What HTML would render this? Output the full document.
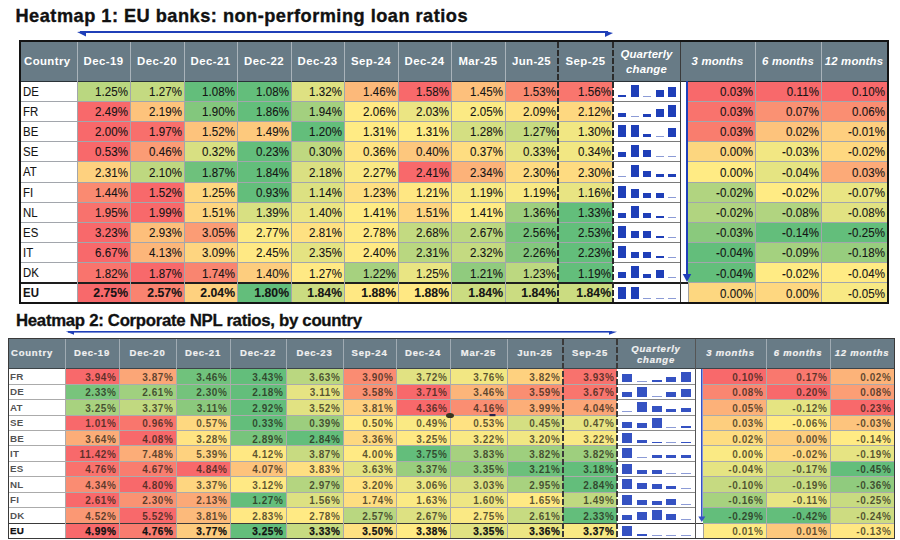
<!DOCTYPE html><html><head><meta charset="utf-8"><style>
*{margin:0;padding:0;box-sizing:content-box}
html,body{width:900px;height:540px;overflow:hidden;background:#fff}
body{position:relative;font-family:"Liberation Sans",sans-serif}
body>div,body>svg{position:absolute;white-space:nowrap}
.t{font-weight:bold;color:#111}
.h1{color:#fff;font-weight:bold;font-size:11.4px;letter-spacing:0.4px}
.h2{color:#f2f2f2;font-weight:bold;font-size:9.5px;letter-spacing:0.8px;-webkit-text-stroke:0.2px #eeeeee}
.it{font-style:italic}
.h1.it{letter-spacing:0.15px}
.c1{color:#141414;font-size:12.8px;letter-spacing:0.1px;-webkit-text-stroke:0.1px #141414;transform:scaleX(0.9);transform-origin:right center}
.c1n{color:#141414;font-size:12.4px;letter-spacing:0.1px;-webkit-text-stroke:0.1px #141414;transform:scaleX(0.92);transform-origin:left center}
.c2{color:rgba(30,25,15,0.72);font-size:10px;font-weight:bold;letter-spacing:0.6px}
.c2n{color:rgba(50,50,50,0.85);font-size:9.8px;font-weight:bold;letter-spacing:0.2px}
.c2.b,.c2n.b{color:#111;-webkit-text-stroke:0.25px #111}
.b{font-weight:bold}
.c1.b{transform:scaleX(0.97);font-size:12.6px;letter-spacing:0}
</style></head><body><div class="t" style="left:15.5px;top:5.5px;font-size:18.2px;line-height:20px;letter-spacing:0.49px;-webkit-text-stroke:0.35px #111" id="t1">Heatmap 1: EU banks: non-performing loan ratios</div><div class="t" style="left:16px;top:311px;font-size:16.8px;line-height:20px;letter-spacing:-0.3px;-webkit-text-stroke:0.3px #111" id="t2">Heatmap 2: Corporate NPL ratios, by country</div><svg style="left:0;top:0" width="900" height="540"><g fill="#1f3fb8"><rect x="80" y="31" width="528" height="2"/><polygon points="77,32 86,31 86,36.5"/><polygon points="613,33 605,31 605,37"/><rect x="68" y="331" width="544" height="1.6"/><polygon points="65.8,331.6 74,331 74,334.7"/><polygon points="617,331.8 609,331 609,334.7"/></g></svg><div style="left:21px;top:42px;width:866px;height:39px;background:#687b86;"></div><div style="left:21px;top:81px;width:56px;height:20px;background:#ffffff;"></div><div style="left:77px;top:81px;width:53px;height:20px;background:#bad780;"></div><div style="left:130px;top:81px;width:54px;height:20px;background:#c4da81;"></div><div style="left:184px;top:81px;width:53px;height:20px;background:#63be7b;"></div><div style="left:237px;top:81px;width:54px;height:20px;background:#63be7b;"></div><div style="left:291px;top:81px;width:53px;height:20px;background:#dee182;"></div><div style="left:344px;top:81px;width:54px;height:20px;background:#fcb97a;"></div><div style="left:398px;top:81px;width:53px;height:20px;background:#f8696b;"></div><div style="left:451px;top:81px;width:54px;height:20px;background:#fdc07c;"></div><div style="left:505px;top:81px;width:53px;height:20px;background:#fa8a71;"></div><div style="left:558px;top:81px;width:55px;height:20px;background:#f9766e;"></div><div style="left:613px;top:81px;width:75px;height:20px;background:#ffffff;"></div><div style="left:21px;top:101px;width:56px;height:20px;background:#ffffff;"></div><div style="left:77px;top:101px;width:53px;height:20px;background:#f8696b;"></div><div style="left:130px;top:101px;width:54px;height:20px;background:#fdc37c;"></div><div style="left:184px;top:101px;width:53px;height:20px;background:#83c77d;"></div><div style="left:237px;top:101px;width:54px;height:20px;background:#63be7b;"></div><div style="left:291px;top:101px;width:53px;height:20px;background:#a3d07f;"></div><div style="left:344px;top:101px;width:54px;height:20px;background:#ffea84;"></div><div style="left:398px;top:101px;width:53px;height:20px;background:#ebe583;"></div><div style="left:451px;top:101px;width:54px;height:20px;background:#fbea84;"></div><div style="left:505px;top:101px;width:53px;height:20px;background:#fee182;"></div><div style="left:558px;top:101px;width:55px;height:20px;background:#fed880;"></div><div style="left:613px;top:101px;width:75px;height:20px;background:#ffffff;"></div><div style="left:21px;top:121px;width:56px;height:20px;background:#ffffff;"></div><div style="left:77px;top:121px;width:53px;height:20px;background:#f8696b;"></div><div style="left:130px;top:121px;width:54px;height:20px;background:#f86f6c;"></div><div style="left:184px;top:121px;width:53px;height:20px;background:#fdc37c;"></div><div style="left:237px;top:121px;width:54px;height:20px;background:#fdc97d;"></div><div style="left:291px;top:121px;width:53px;height:20px;background:#63be7b;"></div><div style="left:344px;top:121px;width:54px;height:20px;background:#ffeb84;"></div><div style="left:398px;top:121px;width:53px;height:20px;background:#ffeb84;"></div><div style="left:451px;top:121px;width:54px;height:20px;background:#d4df82;"></div><div style="left:505px;top:121px;width:53px;height:20px;background:#c6db81;"></div><div style="left:558px;top:121px;width:55px;height:20px;background:#f1e783;"></div><div style="left:613px;top:121px;width:75px;height:20px;background:#ffffff;"></div><div style="left:21px;top:141px;width:56px;height:20px;background:#ffffff;"></div><div style="left:77px;top:141px;width:53px;height:20px;background:#f8696b;"></div><div style="left:130px;top:141px;width:54px;height:20px;background:#fb9c75;"></div><div style="left:184px;top:141px;width:53px;height:20px;background:#d8e082;"></div><div style="left:237px;top:141px;width:54px;height:20px;background:#63be7b;"></div><div style="left:291px;top:141px;width:53px;height:20px;background:#bed880;"></div><div style="left:344px;top:141px;width:54px;height:20px;background:#ffe483;"></div><div style="left:398px;top:141px;width:53px;height:20px;background:#fdc77d;"></div><div style="left:451px;top:141px;width:54px;height:20px;background:#fedd81;"></div><div style="left:505px;top:141px;width:53px;height:20px;background:#e5e482;"></div><div style="left:558px;top:141px;width:55px;height:20px;background:#f2e783;"></div><div style="left:613px;top:141px;width:75px;height:20px;background:#ffffff;"></div><div style="left:21px;top:161px;width:56px;height:21px;background:#ffffff;"></div><div style="left:77px;top:161px;width:53px;height:21px;background:#fed17f;"></div><div style="left:130px;top:161px;width:54px;height:21px;background:#bed880;"></div><div style="left:184px;top:161px;width:53px;height:21px;background:#6ec17c;"></div><div style="left:237px;top:161px;width:54px;height:21px;background:#63be7b;"></div><div style="left:291px;top:161px;width:53px;height:21px;background:#dae082;"></div><div style="left:344px;top:161px;width:54px;height:21px;background:#fae984;"></div><div style="left:398px;top:161px;width:53px;height:21px;background:#f8696b;"></div><div style="left:451px;top:161px;width:54px;height:21px;background:#fcb279;"></div><div style="left:505px;top:161px;width:53px;height:21px;background:#fedb81;"></div><div style="left:558px;top:161px;width:55px;height:21px;background:#fedb81;"></div><div style="left:613px;top:161px;width:75px;height:21px;background:#ffffff;"></div><div style="left:21px;top:182px;width:56px;height:20px;background:#ffffff;"></div><div style="left:77px;top:182px;width:53px;height:20px;background:#fa8a71;"></div><div style="left:130px;top:182px;width:54px;height:20px;background:#f8696b;"></div><div style="left:184px;top:182px;width:53px;height:20px;background:#fed780;"></div><div style="left:237px;top:182px;width:54px;height:20px;background:#63be7b;"></div><div style="left:291px;top:182px;width:53px;height:20px;background:#dce182;"></div><div style="left:344px;top:182px;width:54px;height:20px;background:#fedf82;"></div><div style="left:398px;top:182px;width:53px;height:20px;background:#ffe783;"></div><div style="left:451px;top:182px;width:54px;height:20px;background:#f9e984;"></div><div style="left:505px;top:182px;width:53px;height:20px;background:#f9e984;"></div><div style="left:558px;top:182px;width:55px;height:20px;background:#e8e483;"></div><div style="left:613px;top:182px;width:75px;height:20px;background:#ffffff;"></div><div style="left:21px;top:202px;width:56px;height:20px;background:#ffffff;"></div><div style="left:77px;top:202px;width:53px;height:20px;background:#f8726d;"></div><div style="left:130px;top:202px;width:54px;height:20px;background:#f8696b;"></div><div style="left:184px;top:202px;width:53px;height:20px;background:#fed580;"></div><div style="left:237px;top:202px;width:54px;height:20px;background:#d8e082;"></div><div style="left:291px;top:202px;width:53px;height:20px;background:#ebe583;"></div><div style="left:344px;top:202px;width:54px;height:20px;background:#ffeb84;"></div><div style="left:398px;top:202px;width:53px;height:20px;background:#fed580;"></div><div style="left:451px;top:202px;width:54px;height:20px;background:#ffeb84;"></div><div style="left:505px;top:202px;width:53px;height:20px;background:#9ecf7e;"></div><div style="left:558px;top:202px;width:55px;height:20px;background:#63be7b;"></div><div style="left:613px;top:202px;width:75px;height:20px;background:#ffffff;"></div><div style="left:21px;top:222px;width:56px;height:20px;background:#ffffff;"></div><div style="left:77px;top:222px;width:53px;height:20px;background:#f8696b;"></div><div style="left:130px;top:222px;width:54px;height:20px;background:#fdbf7b;"></div><div style="left:184px;top:222px;width:53px;height:20px;background:#fb9c75;"></div><div style="left:237px;top:222px;width:54px;height:20px;background:#fcea84;"></div><div style="left:291px;top:222px;width:53px;height:20px;background:#fee182;"></div><div style="left:344px;top:222px;width:54px;height:20px;background:#ffea84;"></div><div style="left:398px;top:222px;width:53px;height:20px;background:#c3da81;"></div><div style="left:451px;top:222px;width:54px;height:20px;background:#bcd880;"></div><div style="left:505px;top:222px;width:53px;height:20px;background:#76c47c;"></div><div style="left:558px;top:222px;width:55px;height:20px;background:#63be7b;"></div><div style="left:613px;top:222px;width:75px;height:20px;background:#ffffff;"></div><div style="left:21px;top:242px;width:56px;height:20px;background:#ffffff;"></div><div style="left:77px;top:242px;width:53px;height:20px;background:#f8696b;"></div><div style="left:130px;top:242px;width:54px;height:20px;background:#fcb67a;"></div><div style="left:184px;top:242px;width:53px;height:20px;background:#fed580;"></div><div style="left:237px;top:242px;width:54px;height:20px;background:#ffe984;"></div><div style="left:291px;top:242px;width:53px;height:20px;background:#e4e382;"></div><div style="left:344px;top:242px;width:54px;height:20px;background:#ffea84;"></div><div style="left:398px;top:242px;width:53px;height:20px;background:#b9d780;"></div><div style="left:451px;top:242px;width:54px;height:20px;background:#c4da81;"></div><div style="left:505px;top:242px;width:53px;height:20px;background:#83c77d;"></div><div style="left:558px;top:242px;width:55px;height:20px;background:#63be7b;"></div><div style="left:613px;top:242px;width:75px;height:20px;background:#ffffff;"></div><div style="left:21px;top:262px;width:56px;height:21px;background:#ffffff;"></div><div style="left:77px;top:262px;width:53px;height:21px;background:#f9746d;"></div><div style="left:130px;top:262px;width:54px;height:21px;background:#f8696b;"></div><div style="left:184px;top:262px;width:53px;height:21px;background:#f98570;"></div><div style="left:237px;top:262px;width:54px;height:21px;background:#fdcd7e;"></div><div style="left:291px;top:262px;width:53px;height:21px;background:#ffe984;"></div><div style="left:344px;top:262px;width:54px;height:21px;background:#a6d17f;"></div><div style="left:398px;top:262px;width:53px;height:21px;background:#e9e583;"></div><div style="left:451px;top:262px;width:54px;height:21px;background:#90cb7e;"></div><div style="left:505px;top:262px;width:53px;height:21px;background:#bcd880;"></div><div style="left:558px;top:262px;width:55px;height:21px;background:#63be7b;"></div><div style="left:613px;top:262px;width:75px;height:21px;background:#ffffff;"></div><div style="left:21px;top:283px;width:56px;height:19px;background:#ffffff;"></div><div style="left:77px;top:283px;width:53px;height:19px;background:#f8696b;"></div><div style="left:130px;top:283px;width:54px;height:19px;background:#f98370;"></div><div style="left:184px;top:283px;width:53px;height:19px;background:#fed17f;"></div><div style="left:237px;top:283px;width:54px;height:19px;background:#63be7b;"></div><div style="left:291px;top:283px;width:53px;height:19px;background:#cbdc81;"></div><div style="left:344px;top:283px;width:54px;height:19px;background:#ffe883;"></div><div style="left:398px;top:283px;width:53px;height:19px;background:#ffe883;"></div><div style="left:451px;top:283px;width:54px;height:19px;background:#cbdc81;"></div><div style="left:505px;top:283px;width:53px;height:19px;background:#cbdc81;"></div><div style="left:558px;top:283px;width:55px;height:19px;background:#cbdc81;"></div><div style="left:613px;top:283px;width:75px;height:19px;background:#ffffff;"></div><div style="left:688px;top:81px;width:67px;height:20px;background:#f8696b;"></div><div style="left:688px;top:101px;width:67px;height:20px;background:#f9736d;"></div><div style="left:688px;top:121px;width:67px;height:20px;background:#f97d6e;"></div><div style="left:688px;top:141px;width:67px;height:20px;background:#fcd67f;"></div><div style="left:688px;top:161px;width:67px;height:21px;background:#ffeb84;"></div><div style="left:688px;top:182px;width:67px;height:20px;background:#b1d480;"></div><div style="left:688px;top:202px;width:67px;height:20px;background:#b1d480;"></div><div style="left:688px;top:222px;width:67px;height:20px;background:#8ac97d;"></div><div style="left:688px;top:242px;width:67px;height:20px;background:#63be7b;"></div><div style="left:688px;top:262px;width:67px;height:21px;background:#63be7b;"></div><div style="left:688px;top:283px;width:67px;height:19px;background:#fdd780;"></div><div style="left:755px;top:81px;width:66px;height:20px;background:#f8696b;"></div><div style="left:755px;top:101px;width:66px;height:20px;background:#fa9173;"></div><div style="left:755px;top:121px;width:66px;height:20px;background:#fdc37c;"></div><div style="left:755px;top:141px;width:66px;height:20px;background:#f2e783;"></div><div style="left:755px;top:161px;width:66px;height:21px;background:#e5e482;"></div><div style="left:755px;top:182px;width:66px;height:20px;background:#ffeb84;"></div><div style="left:755px;top:202px;width:66px;height:20px;background:#b1d480;"></div><div style="left:755px;top:222px;width:66px;height:20px;background:#63be7b;"></div><div style="left:755px;top:242px;width:66px;height:20px;background:#a4d17f;"></div><div style="left:755px;top:262px;width:66px;height:21px;background:#ffeb84;"></div><div style="left:755px;top:283px;width:66px;height:19px;background:#fed780;"></div><div style="left:821px;top:81px;width:66px;height:20px;background:#f8696b;"></div><div style="left:821px;top:101px;width:66px;height:20px;background:#fa8e72;"></div><div style="left:821px;top:121px;width:66px;height:20px;background:#fecf7f;"></div><div style="left:821px;top:141px;width:66px;height:20px;background:#fed880;"></div><div style="left:821px;top:161px;width:66px;height:21px;background:#fcaa78;"></div><div style="left:821px;top:182px;width:66px;height:20px;background:#e9e583;"></div><div style="left:821px;top:202px;width:66px;height:20px;background:#e1e282;"></div><div style="left:821px;top:222px;width:66px;height:20px;background:#63be7b;"></div><div style="left:821px;top:242px;width:66px;height:20px;background:#97cd7e;"></div><div style="left:821px;top:262px;width:66px;height:21px;background:#ffeb84;"></div><div style="left:821px;top:283px;width:66px;height:19px;background:#f8e984;"></div><div style="left:21px;top:101px;width:592px;height:1px;background:#a2a6ac;"></div><div style="left:613px;top:101px;width:67px;height:1px;background:#7a7a7a;"></div><div style="left:688px;top:101px;width:199px;height:1px;background:#a2a6ac;"></div><div style="left:21px;top:121px;width:592px;height:1px;background:#a2a6ac;"></div><div style="left:613px;top:121px;width:67px;height:1px;background:#7a7a7a;"></div><div style="left:688px;top:121px;width:199px;height:1px;background:#a2a6ac;"></div><div style="left:21px;top:141px;width:592px;height:1px;background:#a2a6ac;"></div><div style="left:613px;top:141px;width:67px;height:1px;background:#7a7a7a;"></div><div style="left:688px;top:141px;width:199px;height:1px;background:#a2a6ac;"></div><div style="left:21px;top:161px;width:592px;height:1px;background:#a2a6ac;"></div><div style="left:613px;top:161px;width:67px;height:1px;background:#7a7a7a;"></div><div style="left:688px;top:161px;width:199px;height:1px;background:#a2a6ac;"></div><div style="left:21px;top:182px;width:592px;height:1px;background:#a2a6ac;"></div><div style="left:613px;top:182px;width:67px;height:1px;background:#7a7a7a;"></div><div style="left:688px;top:182px;width:199px;height:1px;background:#a2a6ac;"></div><div style="left:21px;top:202px;width:592px;height:1px;background:#a2a6ac;"></div><div style="left:613px;top:202px;width:67px;height:1px;background:#7a7a7a;"></div><div style="left:688px;top:202px;width:199px;height:1px;background:#a2a6ac;"></div><div style="left:21px;top:222px;width:592px;height:1px;background:#a2a6ac;"></div><div style="left:613px;top:222px;width:67px;height:1px;background:#7a7a7a;"></div><div style="left:688px;top:222px;width:199px;height:1px;background:#a2a6ac;"></div><div style="left:21px;top:242px;width:592px;height:1px;background:#a2a6ac;"></div><div style="left:613px;top:242px;width:67px;height:1px;background:#7a7a7a;"></div><div style="left:688px;top:242px;width:199px;height:1px;background:#a2a6ac;"></div><div style="left:21px;top:262px;width:592px;height:1px;background:#a2a6ac;"></div><div style="left:613px;top:262px;width:67px;height:1px;background:#7a7a7a;"></div><div style="left:688px;top:262px;width:199px;height:1px;background:#a2a6ac;"></div><div style="left:21px;top:282px;width:667px;height:2px;background:#1e1e1e;"></div><div style="left:688px;top:282px;width:199px;height:1px;background:#a2a6ac;"></div><div style="left:21px;top:81px;width:866px;height:1px;background:#2a3238;"></div><div style="left:77px;top:42px;width:1px;height:39px;background:#a9b3ba;"></div><div style="left:77px;top:81px;width:1px;height:221px;background:#a2a6ac;"></div><div style="left:130px;top:42px;width:1px;height:39px;background:#a9b3ba;"></div><div style="left:130px;top:81px;width:1px;height:221px;background:#a2a6ac;"></div><div style="left:184px;top:42px;width:1px;height:39px;background:#a9b3ba;"></div><div style="left:184px;top:81px;width:1px;height:221px;background:#a2a6ac;"></div><div style="left:237px;top:42px;width:1px;height:39px;background:#a9b3ba;"></div><div style="left:237px;top:81px;width:1px;height:221px;background:#a2a6ac;"></div><div style="left:291px;top:42px;width:1px;height:39px;background:#a9b3ba;"></div><div style="left:291px;top:81px;width:1px;height:221px;background:#a2a6ac;"></div><div style="left:344px;top:42px;width:1px;height:39px;background:#a9b3ba;"></div><div style="left:344px;top:81px;width:1px;height:221px;background:#a2a6ac;"></div><div style="left:398px;top:42px;width:1px;height:39px;background:#a9b3ba;"></div><div style="left:398px;top:81px;width:1px;height:221px;background:#a2a6ac;"></div><div style="left:451px;top:42px;width:1px;height:39px;background:#a9b3ba;"></div><div style="left:451px;top:81px;width:1px;height:221px;background:#a2a6ac;"></div><div style="left:505px;top:42px;width:1px;height:39px;background:#a9b3ba;"></div><div style="left:505px;top:81px;width:1px;height:221px;background:#a2a6ac;"></div><div style="left:755px;top:42px;width:1px;height:39px;background:#a9b3ba;"></div><div style="left:755px;top:81px;width:1px;height:221px;background:#a2a6ac;"></div><div style="left:821px;top:42px;width:1px;height:39px;background:#a9b3ba;"></div><div style="left:821px;top:81px;width:1px;height:221px;background:#a2a6ac;"></div><div style="left:680px;top:42px;width:1px;height:39px;background:#3a3a3a;"></div><div style="left:680px;top:81px;width:1px;height:221px;background:#3a3a3a;"></div><div style="left:688px;top:283px;width:1px;height:19px;background:#a0a0a0;"></div><div style="left:557px;top:42px;width:2px;height:260px;background:repeating-linear-gradient(to bottom,#2b2b2b 0,#2b2b2b 6px,transparent 6px,transparent 8px)"></div><div style="left:612px;top:42px;width:2px;height:260px;background:repeating-linear-gradient(to bottom,#2b2b2b 0,#2b2b2b 6px,transparent 6px,transparent 8px)"></div><svg style="left:0;top:0" width="900" height="540"><rect x="686" y="81" width="2" height="193.5" fill="#1f3fb8"/><polygon points="682.75,274 691.25,274 687.0,282" fill="#1f3fb8"/></svg><div style="left:19px;top:40px;width:866px;height:260px;border:2px solid #141414"></div><div class="h1" style="left:24px;top:42px;width:56px;height:39px;line-height:39px;text-align:left">Country</div><div class="h1" style="left:77px;top:42px;width:53px;height:39px;line-height:39px;text-align:center">Dec-19</div><div class="h1" style="left:130px;top:42px;width:54px;height:39px;line-height:39px;text-align:center">Dec-20</div><div class="h1" style="left:184px;top:42px;width:53px;height:39px;line-height:39px;text-align:center">Dec-21</div><div class="h1" style="left:237px;top:42px;width:54px;height:39px;line-height:39px;text-align:center">Dec-22</div><div class="h1" style="left:291px;top:42px;width:53px;height:39px;line-height:39px;text-align:center">Dec-23</div><div class="h1" style="left:344px;top:42px;width:54px;height:39px;line-height:39px;text-align:center">Sep-24</div><div class="h1" style="left:398px;top:42px;width:53px;height:39px;line-height:39px;text-align:center">Dec-24</div><div class="h1" style="left:451px;top:42px;width:54px;height:39px;line-height:39px;text-align:center">Mar-25</div><div class="h1" style="left:505px;top:42px;width:53px;height:39px;line-height:39px;text-align:center">Jun-25</div><div class="h1" style="left:558px;top:42px;width:55px;height:39px;line-height:39px;text-align:center">Sep-25</div><div class="h1 it" style="left:613px;top:47px;width:67px;line-height:15px;text-align:center">Quarterly<br>change</div><div class="h1 it" style="left:680px;top:42px;width:75px;height:39px;line-height:39px;text-align:center">3 months</div><div class="h1 it" style="left:755px;top:42px;width:66px;height:39px;line-height:39px;text-align:center">6 months</div><div class="h1 it" style="left:821px;top:42px;width:66px;height:39px;line-height:39px;text-align:center">12 months</div><div class="c1n" style="left:23px;top:81.5px;width:50px;height:20px;line-height:20px;text-align:left">DE</div><div class="c1" style="left:77px;top:81.5px;width:51px;height:20px;line-height:20px;text-align:right">1.25%</div><div class="c1" style="left:130px;top:81.5px;width:52px;height:20px;line-height:20px;text-align:right">1.27%</div><div class="c1" style="left:184px;top:81.5px;width:51px;height:20px;line-height:20px;text-align:right">1.08%</div><div class="c1" style="left:237px;top:81.5px;width:52px;height:20px;line-height:20px;text-align:right">1.08%</div><div class="c1" style="left:291px;top:81.5px;width:51px;height:20px;line-height:20px;text-align:right">1.32%</div><div class="c1" style="left:344px;top:81.5px;width:52px;height:20px;line-height:20px;text-align:right">1.46%</div><div class="c1" style="left:398px;top:81.5px;width:51px;height:20px;line-height:20px;text-align:right">1.58%</div><div class="c1" style="left:451px;top:81.5px;width:52px;height:20px;line-height:20px;text-align:right">1.45%</div><div class="c1" style="left:505px;top:81.5px;width:51px;height:20px;line-height:20px;text-align:right">1.53%</div><div class="c1" style="left:558px;top:81.5px;width:53px;height:20px;line-height:20px;text-align:right">1.56%</div><div class="c1" style="left:688px;top:81.5px;width:65px;height:20px;line-height:20px;text-align:right">0.03%</div><div class="c1" style="left:755px;top:81.5px;width:64px;height:20px;line-height:20px;text-align:right">0.11%</div><div class="c1" style="left:821px;top:81.5px;width:64px;height:20px;line-height:20px;text-align:right">0.10%</div><div style="left:618px;top:95px;width:8px;height:2px;background:#1f3fb8;"></div><div style="left:631px;top:85px;width:8px;height:12px;background:#1f3fb8;"></div><div style="left:643px;top:96px;width:8px;height:1px;background:#8c9bd6;"></div><div style="left:656px;top:90px;width:8px;height:7px;background:#1f3fb8;"></div><div style="left:668px;top:87px;width:8px;height:10px;background:#1f3fb8;"></div><div class="c1n" style="left:23px;top:101.5px;width:50px;height:20px;line-height:20px;text-align:left">FR</div><div class="c1" style="left:77px;top:101.5px;width:51px;height:20px;line-height:20px;text-align:right">2.49%</div><div class="c1" style="left:130px;top:101.5px;width:52px;height:20px;line-height:20px;text-align:right">2.19%</div><div class="c1" style="left:184px;top:101.5px;width:51px;height:20px;line-height:20px;text-align:right">1.90%</div><div class="c1" style="left:237px;top:101.5px;width:52px;height:20px;line-height:20px;text-align:right">1.86%</div><div class="c1" style="left:291px;top:101.5px;width:51px;height:20px;line-height:20px;text-align:right">1.94%</div><div class="c1" style="left:344px;top:101.5px;width:52px;height:20px;line-height:20px;text-align:right">2.06%</div><div class="c1" style="left:398px;top:101.5px;width:51px;height:20px;line-height:20px;text-align:right">2.03%</div><div class="c1" style="left:451px;top:101.5px;width:52px;height:20px;line-height:20px;text-align:right">2.05%</div><div class="c1" style="left:505px;top:101.5px;width:51px;height:20px;line-height:20px;text-align:right">2.09%</div><div class="c1" style="left:558px;top:101.5px;width:53px;height:20px;line-height:20px;text-align:right">2.12%</div><div class="c1" style="left:688px;top:101.5px;width:65px;height:20px;line-height:20px;text-align:right">0.03%</div><div class="c1" style="left:755px;top:101.5px;width:64px;height:20px;line-height:20px;text-align:right">0.07%</div><div class="c1" style="left:821px;top:101.5px;width:64px;height:20px;line-height:20px;text-align:right">0.06%</div><div style="left:618px;top:113px;width:8px;height:4px;background:#1f3fb8;"></div><div style="left:631px;top:116px;width:8px;height:1px;background:#8c9bd6;"></div><div style="left:643px;top:114px;width:8px;height:3px;background:#1f3fb8;"></div><div style="left:656px;top:109px;width:8px;height:8px;background:#1f3fb8;"></div><div style="left:668px;top:105px;width:8px;height:12px;background:#1f3fb8;"></div><div class="c1n" style="left:23px;top:121.5px;width:50px;height:20px;line-height:20px;text-align:left">BE</div><div class="c1" style="left:77px;top:121.5px;width:51px;height:20px;line-height:20px;text-align:right">2.00%</div><div class="c1" style="left:130px;top:121.5px;width:52px;height:20px;line-height:20px;text-align:right">1.97%</div><div class="c1" style="left:184px;top:121.5px;width:51px;height:20px;line-height:20px;text-align:right">1.52%</div><div class="c1" style="left:237px;top:121.5px;width:52px;height:20px;line-height:20px;text-align:right">1.49%</div><div class="c1" style="left:291px;top:121.5px;width:51px;height:20px;line-height:20px;text-align:right">1.20%</div><div class="c1" style="left:344px;top:121.5px;width:52px;height:20px;line-height:20px;text-align:right">1.31%</div><div class="c1" style="left:398px;top:121.5px;width:51px;height:20px;line-height:20px;text-align:right">1.31%</div><div class="c1" style="left:451px;top:121.5px;width:52px;height:20px;line-height:20px;text-align:right">1.28%</div><div class="c1" style="left:505px;top:121.5px;width:51px;height:20px;line-height:20px;text-align:right">1.27%</div><div class="c1" style="left:558px;top:121.5px;width:53px;height:20px;line-height:20px;text-align:right">1.30%</div><div class="c1" style="left:688px;top:121.5px;width:65px;height:20px;line-height:20px;text-align:right">0.03%</div><div class="c1" style="left:755px;top:121.5px;width:64px;height:20px;line-height:20px;text-align:right">0.02%</div><div class="c1" style="left:821px;top:121.5px;width:64px;height:20px;line-height:20px;text-align:right">-0.01%</div><div style="left:618px;top:125px;width:8px;height:12px;background:#1f3fb8;"></div><div style="left:631px;top:125px;width:8px;height:12px;background:#1f3fb8;"></div><div style="left:643px;top:134px;width:8px;height:3px;background:#1f3fb8;"></div><div style="left:656px;top:136px;width:8px;height:1px;background:#8c9bd6;"></div><div style="left:668px;top:128px;width:8px;height:9px;background:#1f3fb8;"></div><div class="c1n" style="left:23px;top:141.5px;width:50px;height:20px;line-height:20px;text-align:left">SE</div><div class="c1" style="left:77px;top:141.5px;width:51px;height:20px;line-height:20px;text-align:right">0.53%</div><div class="c1" style="left:130px;top:141.5px;width:52px;height:20px;line-height:20px;text-align:right">0.46%</div><div class="c1" style="left:184px;top:141.5px;width:51px;height:20px;line-height:20px;text-align:right">0.32%</div><div class="c1" style="left:237px;top:141.5px;width:52px;height:20px;line-height:20px;text-align:right">0.23%</div><div class="c1" style="left:291px;top:141.5px;width:51px;height:20px;line-height:20px;text-align:right">0.30%</div><div class="c1" style="left:344px;top:141.5px;width:52px;height:20px;line-height:20px;text-align:right">0.36%</div><div class="c1" style="left:398px;top:141.5px;width:51px;height:20px;line-height:20px;text-align:right">0.40%</div><div class="c1" style="left:451px;top:141.5px;width:52px;height:20px;line-height:20px;text-align:right">0.37%</div><div class="c1" style="left:505px;top:141.5px;width:51px;height:20px;line-height:20px;text-align:right">0.33%</div><div class="c1" style="left:558px;top:141.5px;width:53px;height:20px;line-height:20px;text-align:right">0.34%</div><div class="c1" style="left:688px;top:141.5px;width:65px;height:20px;line-height:20px;text-align:right">0.00%</div><div class="c1" style="left:755px;top:141.5px;width:64px;height:20px;line-height:20px;text-align:right">-0.03%</div><div class="c1" style="left:821px;top:141.5px;width:64px;height:20px;line-height:20px;text-align:right">-0.02%</div><div style="left:618px;top:152px;width:8px;height:5px;background:#1f3fb8;"></div><div style="left:631px;top:145px;width:8px;height:12px;background:#1f3fb8;"></div><div style="left:643px;top:150px;width:8px;height:7px;background:#1f3fb8;"></div><div style="left:656px;top:156px;width:8px;height:1px;background:#8c9bd6;"></div><div style="left:668px;top:156px;width:8px;height:1px;background:#8c9bd6;"></div><div class="c1n" style="left:23px;top:161.5px;width:50px;height:21px;line-height:21px;text-align:left">AT</div><div class="c1" style="left:77px;top:161.5px;width:51px;height:21px;line-height:21px;text-align:right">2.31%</div><div class="c1" style="left:130px;top:161.5px;width:52px;height:21px;line-height:21px;text-align:right">2.10%</div><div class="c1" style="left:184px;top:161.5px;width:51px;height:21px;line-height:21px;text-align:right">1.87%</div><div class="c1" style="left:237px;top:161.5px;width:52px;height:21px;line-height:21px;text-align:right">1.84%</div><div class="c1" style="left:291px;top:161.5px;width:51px;height:21px;line-height:21px;text-align:right">2.18%</div><div class="c1" style="left:344px;top:161.5px;width:52px;height:21px;line-height:21px;text-align:right">2.27%</div><div class="c1" style="left:398px;top:161.5px;width:51px;height:21px;line-height:21px;text-align:right">2.41%</div><div class="c1" style="left:451px;top:161.5px;width:52px;height:21px;line-height:21px;text-align:right">2.34%</div><div class="c1" style="left:505px;top:161.5px;width:51px;height:21px;line-height:21px;text-align:right">2.30%</div><div class="c1" style="left:558px;top:161.5px;width:53px;height:21px;line-height:21px;text-align:right">2.30%</div><div class="c1" style="left:688px;top:161.5px;width:65px;height:21px;line-height:21px;text-align:right">0.00%</div><div class="c1" style="left:755px;top:161.5px;width:64px;height:21px;line-height:21px;text-align:right">-0.04%</div><div class="c1" style="left:821px;top:161.5px;width:64px;height:21px;line-height:21px;text-align:right">0.03%</div><div style="left:618px;top:176px;width:8px;height:1px;background:#8c9bd6;"></div><div style="left:631px;top:165px;width:8px;height:12px;background:#1f3fb8;"></div><div style="left:643px;top:171px;width:8px;height:6px;background:#1f3fb8;"></div><div style="left:656px;top:174px;width:8px;height:3px;background:#1f3fb8;"></div><div style="left:668px;top:174px;width:8px;height:3px;background:#1f3fb8;"></div><div class="c1n" style="left:23px;top:182.5px;width:50px;height:20px;line-height:20px;text-align:left">FI</div><div class="c1" style="left:77px;top:182.5px;width:51px;height:20px;line-height:20px;text-align:right">1.44%</div><div class="c1" style="left:130px;top:182.5px;width:52px;height:20px;line-height:20px;text-align:right">1.52%</div><div class="c1" style="left:184px;top:182.5px;width:51px;height:20px;line-height:20px;text-align:right">1.25%</div><div class="c1" style="left:237px;top:182.5px;width:52px;height:20px;line-height:20px;text-align:right">0.93%</div><div class="c1" style="left:291px;top:182.5px;width:51px;height:20px;line-height:20px;text-align:right">1.14%</div><div class="c1" style="left:344px;top:182.5px;width:52px;height:20px;line-height:20px;text-align:right">1.23%</div><div class="c1" style="left:398px;top:182.5px;width:51px;height:20px;line-height:20px;text-align:right">1.21%</div><div class="c1" style="left:451px;top:182.5px;width:52px;height:20px;line-height:20px;text-align:right">1.19%</div><div class="c1" style="left:505px;top:182.5px;width:51px;height:20px;line-height:20px;text-align:right">1.19%</div><div class="c1" style="left:558px;top:182.5px;width:53px;height:20px;line-height:20px;text-align:right">1.16%</div><div class="c1" style="left:688px;top:182.5px;width:65px;height:20px;line-height:20px;text-align:right">-0.02%</div><div class="c1" style="left:755px;top:182.5px;width:64px;height:20px;line-height:20px;text-align:right">-0.02%</div><div class="c1" style="left:821px;top:182.5px;width:64px;height:20px;line-height:20px;text-align:right">-0.07%</div><div style="left:618px;top:186px;width:8px;height:12px;background:#1f3fb8;"></div><div style="left:631px;top:189px;width:8px;height:9px;background:#1f3fb8;"></div><div style="left:643px;top:193px;width:8px;height:5px;background:#1f3fb8;"></div><div style="left:656px;top:193px;width:8px;height:5px;background:#1f3fb8;"></div><div style="left:668px;top:197px;width:8px;height:1px;background:#8c9bd6;"></div><div class="c1n" style="left:23px;top:202.5px;width:50px;height:20px;line-height:20px;text-align:left">NL</div><div class="c1" style="left:77px;top:202.5px;width:51px;height:20px;line-height:20px;text-align:right">1.95%</div><div class="c1" style="left:130px;top:202.5px;width:52px;height:20px;line-height:20px;text-align:right">1.99%</div><div class="c1" style="left:184px;top:202.5px;width:51px;height:20px;line-height:20px;text-align:right">1.51%</div><div class="c1" style="left:237px;top:202.5px;width:52px;height:20px;line-height:20px;text-align:right">1.39%</div><div class="c1" style="left:291px;top:202.5px;width:51px;height:20px;line-height:20px;text-align:right">1.40%</div><div class="c1" style="left:344px;top:202.5px;width:52px;height:20px;line-height:20px;text-align:right">1.41%</div><div class="c1" style="left:398px;top:202.5px;width:51px;height:20px;line-height:20px;text-align:right">1.51%</div><div class="c1" style="left:451px;top:202.5px;width:52px;height:20px;line-height:20px;text-align:right">1.41%</div><div class="c1" style="left:505px;top:202.5px;width:51px;height:20px;line-height:20px;text-align:right">1.36%</div><div class="c1" style="left:558px;top:202.5px;width:53px;height:20px;line-height:20px;text-align:right">1.33%</div><div class="c1" style="left:688px;top:202.5px;width:65px;height:20px;line-height:20px;text-align:right">-0.02%</div><div class="c1" style="left:755px;top:202.5px;width:64px;height:20px;line-height:20px;text-align:right">-0.08%</div><div class="c1" style="left:821px;top:202.5px;width:64px;height:20px;line-height:20px;text-align:right">-0.08%</div><div style="left:618px;top:213px;width:8px;height:5px;background:#1f3fb8;"></div><div style="left:631px;top:206px;width:8px;height:12px;background:#1f3fb8;"></div><div style="left:643px;top:213px;width:8px;height:5px;background:#1f3fb8;"></div><div style="left:656px;top:216px;width:8px;height:2px;background:#1f3fb8;"></div><div style="left:668px;top:217px;width:8px;height:1px;background:#8c9bd6;"></div><div class="c1n" style="left:23px;top:222.5px;width:50px;height:20px;line-height:20px;text-align:left">ES</div><div class="c1" style="left:77px;top:222.5px;width:51px;height:20px;line-height:20px;text-align:right">3.23%</div><div class="c1" style="left:130px;top:222.5px;width:52px;height:20px;line-height:20px;text-align:right">2.93%</div><div class="c1" style="left:184px;top:222.5px;width:51px;height:20px;line-height:20px;text-align:right">3.05%</div><div class="c1" style="left:237px;top:222.5px;width:52px;height:20px;line-height:20px;text-align:right">2.77%</div><div class="c1" style="left:291px;top:222.5px;width:51px;height:20px;line-height:20px;text-align:right">2.81%</div><div class="c1" style="left:344px;top:222.5px;width:52px;height:20px;line-height:20px;text-align:right">2.78%</div><div class="c1" style="left:398px;top:222.5px;width:51px;height:20px;line-height:20px;text-align:right">2.68%</div><div class="c1" style="left:451px;top:222.5px;width:52px;height:20px;line-height:20px;text-align:right">2.67%</div><div class="c1" style="left:505px;top:222.5px;width:51px;height:20px;line-height:20px;text-align:right">2.56%</div><div class="c1" style="left:558px;top:222.5px;width:53px;height:20px;line-height:20px;text-align:right">2.53%</div><div class="c1" style="left:688px;top:222.5px;width:65px;height:20px;line-height:20px;text-align:right">-0.03%</div><div class="c1" style="left:755px;top:222.5px;width:64px;height:20px;line-height:20px;text-align:right">-0.14%</div><div class="c1" style="left:821px;top:222.5px;width:64px;height:20px;line-height:20px;text-align:right">-0.25%</div><div style="left:618px;top:226px;width:8px;height:12px;background:#1f3fb8;"></div><div style="left:631px;top:231px;width:8px;height:7px;background:#1f3fb8;"></div><div style="left:643px;top:231px;width:8px;height:7px;background:#1f3fb8;"></div><div style="left:656px;top:236px;width:8px;height:2px;background:#1f3fb8;"></div><div style="left:668px;top:237px;width:8px;height:1px;background:#8c9bd6;"></div><div class="c1n" style="left:23px;top:242.5px;width:50px;height:20px;line-height:20px;text-align:left">IT</div><div class="c1" style="left:77px;top:242.5px;width:51px;height:20px;line-height:20px;text-align:right">6.67%</div><div class="c1" style="left:130px;top:242.5px;width:52px;height:20px;line-height:20px;text-align:right">4.13%</div><div class="c1" style="left:184px;top:242.5px;width:51px;height:20px;line-height:20px;text-align:right">3.09%</div><div class="c1" style="left:237px;top:242.5px;width:52px;height:20px;line-height:20px;text-align:right">2.45%</div><div class="c1" style="left:291px;top:242.5px;width:51px;height:20px;line-height:20px;text-align:right">2.35%</div><div class="c1" style="left:344px;top:242.5px;width:52px;height:20px;line-height:20px;text-align:right">2.40%</div><div class="c1" style="left:398px;top:242.5px;width:51px;height:20px;line-height:20px;text-align:right">2.31%</div><div class="c1" style="left:451px;top:242.5px;width:52px;height:20px;line-height:20px;text-align:right">2.32%</div><div class="c1" style="left:505px;top:242.5px;width:51px;height:20px;line-height:20px;text-align:right">2.26%</div><div class="c1" style="left:558px;top:242.5px;width:53px;height:20px;line-height:20px;text-align:right">2.23%</div><div class="c1" style="left:688px;top:242.5px;width:65px;height:20px;line-height:20px;text-align:right">-0.04%</div><div class="c1" style="left:755px;top:242.5px;width:64px;height:20px;line-height:20px;text-align:right">-0.09%</div><div class="c1" style="left:821px;top:242.5px;width:64px;height:20px;line-height:20px;text-align:right">-0.18%</div><div style="left:618px;top:246px;width:8px;height:12px;background:#1f3fb8;"></div><div style="left:631px;top:252px;width:8px;height:6px;background:#1f3fb8;"></div><div style="left:643px;top:252px;width:8px;height:6px;background:#1f3fb8;"></div><div style="left:656px;top:256px;width:8px;height:2px;background:#1f3fb8;"></div><div style="left:668px;top:257px;width:8px;height:1px;background:#8c9bd6;"></div><div class="c1n" style="left:23px;top:262.5px;width:50px;height:21px;line-height:21px;text-align:left">DK</div><div class="c1" style="left:77px;top:262.5px;width:51px;height:21px;line-height:21px;text-align:right">1.82%</div><div class="c1" style="left:130px;top:262.5px;width:52px;height:21px;line-height:21px;text-align:right">1.87%</div><div class="c1" style="left:184px;top:262.5px;width:51px;height:21px;line-height:21px;text-align:right">1.74%</div><div class="c1" style="left:237px;top:262.5px;width:52px;height:21px;line-height:21px;text-align:right">1.40%</div><div class="c1" style="left:291px;top:262.5px;width:51px;height:21px;line-height:21px;text-align:right">1.27%</div><div class="c1" style="left:344px;top:262.5px;width:52px;height:21px;line-height:21px;text-align:right">1.22%</div><div class="c1" style="left:398px;top:262.5px;width:51px;height:21px;line-height:21px;text-align:right">1.25%</div><div class="c1" style="left:451px;top:262.5px;width:52px;height:21px;line-height:21px;text-align:right">1.21%</div><div class="c1" style="left:505px;top:262.5px;width:51px;height:21px;line-height:21px;text-align:right">1.23%</div><div class="c1" style="left:558px;top:262.5px;width:53px;height:21px;line-height:21px;text-align:right">1.19%</div><div class="c1" style="left:688px;top:262.5px;width:65px;height:21px;line-height:21px;text-align:right">-0.04%</div><div class="c1" style="left:755px;top:262.5px;width:64px;height:21px;line-height:21px;text-align:right">-0.02%</div><div class="c1" style="left:821px;top:262.5px;width:64px;height:21px;line-height:21px;text-align:right">-0.04%</div><div style="left:618px;top:272px;width:8px;height:6px;background:#1f3fb8;"></div><div style="left:631px;top:266px;width:8px;height:12px;background:#1f3fb8;"></div><div style="left:643px;top:274px;width:8px;height:4px;background:#1f3fb8;"></div><div style="left:656px;top:270px;width:8px;height:8px;background:#1f3fb8;"></div><div style="left:668px;top:277px;width:8px;height:1px;background:#8c9bd6;"></div><div class="c1n b" style="left:23px;top:283.5px;width:50px;height:19px;line-height:19px;text-align:left">EU</div><div class="c1 b" style="left:77px;top:283.5px;width:51px;height:19px;line-height:19px;text-align:right">2.75%</div><div class="c1 b" style="left:130px;top:283.5px;width:52px;height:19px;line-height:19px;text-align:right">2.57%</div><div class="c1 b" style="left:184px;top:283.5px;width:51px;height:19px;line-height:19px;text-align:right">2.04%</div><div class="c1 b" style="left:237px;top:283.5px;width:52px;height:19px;line-height:19px;text-align:right">1.80%</div><div class="c1 b" style="left:291px;top:283.5px;width:51px;height:19px;line-height:19px;text-align:right">1.84%</div><div class="c1 b" style="left:344px;top:283.5px;width:52px;height:19px;line-height:19px;text-align:right">1.88%</div><div class="c1 b" style="left:398px;top:283.5px;width:51px;height:19px;line-height:19px;text-align:right">1.88%</div><div class="c1 b" style="left:451px;top:283.5px;width:52px;height:19px;line-height:19px;text-align:right">1.84%</div><div class="c1 b" style="left:505px;top:283.5px;width:51px;height:19px;line-height:19px;text-align:right">1.84%</div><div class="c1 b" style="left:558px;top:283.5px;width:53px;height:19px;line-height:19px;text-align:right">1.84%</div><div class="c1" style="left:688px;top:283.5px;width:65px;height:19px;line-height:19px;text-align:right">0.00%</div><div class="c1" style="left:755px;top:283.5px;width:64px;height:19px;line-height:19px;text-align:right">0.00%</div><div class="c1" style="left:821px;top:283.5px;width:64px;height:19px;line-height:19px;text-align:right">-0.05%</div><div style="left:618px;top:287px;width:8px;height:12px;background:#1f3fb8;"></div><div style="left:631px;top:287px;width:8px;height:12px;background:#1f3fb8;"></div><div style="left:643px;top:298px;width:8px;height:1px;background:#8c9bd6;"></div><div style="left:656px;top:298px;width:8px;height:1px;background:#8c9bd6;"></div><div style="left:668px;top:298px;width:8px;height:1px;background:#8c9bd6;"></div><div style="left:9px;top:339px;width:885px;height:30px;background:#687b86;"></div><div style="left:9px;top:369px;width:56px;height:15.399999999999977px;background:#ffffff;"></div><div style="left:65px;top:369px;width:54px;height:15.399999999999977px;background:#f8696b;"></div><div style="left:119px;top:369px;width:57px;height:15.399999999999977px;background:#fba677;"></div><div style="left:176px;top:369px;width:54px;height:15.399999999999977px;background:#70c27c;"></div><div style="left:230px;top:369px;width:56px;height:15.399999999999977px;background:#63be7b;"></div><div style="left:286px;top:369px;width:57px;height:15.399999999999977px;background:#bad780;"></div><div style="left:343px;top:369px;width:53px;height:15.399999999999977px;background:#fa8c72;"></div><div style="left:396px;top:369px;width:54px;height:15.399999999999977px;background:#e1e282;"></div><div style="left:450px;top:369px;width:57px;height:15.399999999999977px;background:#f2e783;"></div><div style="left:507px;top:369px;width:56px;height:15.399999999999977px;background:#fed17f;"></div><div style="left:563px;top:369px;width:54px;height:15.399999999999977px;background:#f8726d;"></div><div style="left:617px;top:369px;width:86px;height:15.399999999999977px;background:#ffffff;"></div><div style="left:9px;top:384.4px;width:56px;height:15.400000000000034px;background:#ffffff;"></div><div style="left:65px;top:384.4px;width:54px;height:15.400000000000034px;background:#78c47c;"></div><div style="left:119px;top:384.4px;width:57px;height:15.400000000000034px;background:#a0d07f;"></div><div style="left:176px;top:384.4px;width:54px;height:15.400000000000034px;background:#74c37c;"></div><div style="left:230px;top:384.4px;width:56px;height:15.400000000000034px;background:#63be7b;"></div><div style="left:286px;top:384.4px;width:57px;height:15.400000000000034px;background:#e6e483;"></div><div style="left:343px;top:384.4px;width:53px;height:15.400000000000034px;background:#fa9173;"></div><div style="left:396px;top:384.4px;width:54px;height:15.400000000000034px;background:#f8696b;"></div><div style="left:450px;top:384.4px;width:57px;height:15.400000000000034px;background:#fcb57a;"></div><div style="left:507px;top:384.4px;width:56px;height:15.400000000000034px;background:#fa8e72;"></div><div style="left:563px;top:384.4px;width:54px;height:15.400000000000034px;background:#f9756d;"></div><div style="left:617px;top:384.4px;width:86px;height:15.400000000000034px;background:#ffffff;"></div><div style="left:9px;top:399.8px;width:56px;height:15.399999999999977px;background:#ffffff;"></div><div style="left:65px;top:399.8px;width:54px;height:15.399999999999977px;background:#a8d27f;"></div><div style="left:119px;top:399.8px;width:57px;height:15.399999999999977px;background:#c1d980;"></div><div style="left:176px;top:399.8px;width:54px;height:15.399999999999977px;background:#8bc97d;"></div><div style="left:230px;top:399.8px;width:56px;height:15.399999999999977px;background:#63be7b;"></div><div style="left:286px;top:399.8px;width:57px;height:15.399999999999977px;background:#e1e282;"></div><div style="left:343px;top:399.8px;width:53px;height:15.399999999999977px;background:#fed07f;"></div><div style="left:396px;top:399.8px;width:54px;height:15.399999999999977px;background:#f8696b;"></div><div style="left:450px;top:399.8px;width:57px;height:15.399999999999977px;background:#fa8e72;"></div><div style="left:507px;top:399.8px;width:56px;height:15.399999999999977px;background:#fcae78;"></div><div style="left:563px;top:399.8px;width:54px;height:15.399999999999977px;background:#fba577;"></div><div style="left:617px;top:399.8px;width:86px;height:15.399999999999977px;background:#ffffff;"></div><div style="left:9px;top:415.2px;width:56px;height:15.400000000000034px;background:#ffffff;"></div><div style="left:65px;top:415.2px;width:54px;height:15.400000000000034px;background:#f8696b;"></div><div style="left:119px;top:415.2px;width:57px;height:15.400000000000034px;background:#f9766d;"></div><div style="left:176px;top:415.2px;width:54px;height:15.400000000000034px;background:#fed880;"></div><div style="left:230px;top:415.2px;width:56px;height:15.400000000000034px;background:#63be7b;"></div><div style="left:286px;top:415.2px;width:57px;height:15.400000000000034px;background:#9cce7e;"></div><div style="left:343px;top:415.2px;width:53px;height:15.400000000000034px;background:#ffea84;"></div><div style="left:396px;top:415.2px;width:54px;height:15.400000000000034px;background:#faea84;"></div><div style="left:450px;top:415.2px;width:57px;height:15.400000000000034px;background:#ffe282;"></div><div style="left:507px;top:415.2px;width:56px;height:15.400000000000034px;background:#d4df82;"></div><div style="left:563px;top:415.2px;width:54px;height:15.400000000000034px;background:#e7e483;"></div><div style="left:617px;top:415.2px;width:86px;height:15.400000000000034px;background:#ffffff;"></div><div style="left:9px;top:430.6px;width:56px;height:15.399999999999977px;background:#ffffff;"></div><div style="left:65px;top:430.6px;width:54px;height:15.399999999999977px;background:#fcad78;"></div><div style="left:119px;top:430.6px;width:57px;height:15.399999999999977px;background:#f8696b;"></div><div style="left:176px;top:430.6px;width:54px;height:15.399999999999977px;background:#ffe483;"></div><div style="left:230px;top:430.6px;width:56px;height:15.399999999999977px;background:#77c47c;"></div><div style="left:286px;top:430.6px;width:57px;height:15.399999999999977px;background:#63be7b;"></div><div style="left:343px;top:430.6px;width:53px;height:15.399999999999977px;background:#fed880;"></div><div style="left:396px;top:430.6px;width:54px;height:15.399999999999977px;background:#ffe984;"></div><div style="left:450px;top:430.6px;width:57px;height:15.399999999999977px;background:#f9e984;"></div><div style="left:507px;top:430.6px;width:56px;height:15.399999999999977px;background:#f1e783;"></div><div style="left:563px;top:430.6px;width:54px;height:15.399999999999977px;background:#f9e984;"></div><div style="left:617px;top:430.6px;width:86px;height:15.399999999999977px;background:#ffffff;"></div><div style="left:9px;top:446px;width:56px;height:15.399999999999977px;background:#ffffff;"></div><div style="left:65px;top:446px;width:54px;height:15.399999999999977px;background:#f8696b;"></div><div style="left:119px;top:446px;width:57px;height:15.399999999999977px;background:#fcad78;"></div><div style="left:176px;top:446px;width:54px;height:15.399999999999977px;background:#fed27f;"></div><div style="left:230px;top:446px;width:56px;height:15.399999999999977px;background:#ffe883;"></div><div style="left:286px;top:446px;width:57px;height:15.399999999999977px;background:#c8db81;"></div><div style="left:343px;top:446px;width:53px;height:15.399999999999977px;background:#ffea84;"></div><div style="left:396px;top:446px;width:54px;height:15.399999999999977px;background:#63be7b;"></div><div style="left:450px;top:446px;width:57px;height:15.399999999999977px;background:#a6d17f;"></div><div style="left:507px;top:446px;width:56px;height:15.399999999999977px;background:#9ecf7e;"></div><div style="left:563px;top:446px;width:54px;height:15.399999999999977px;background:#9ecf7e;"></div><div style="left:617px;top:446px;width:86px;height:15.399999999999977px;background:#ffffff;"></div><div style="left:9px;top:461.4px;width:56px;height:15.400000000000034px;background:#ffffff;"></div><div style="left:65px;top:461.4px;width:54px;height:15.400000000000034px;background:#f9726d;"></div><div style="left:119px;top:461.4px;width:57px;height:15.400000000000034px;background:#f97d6f;"></div><div style="left:176px;top:461.4px;width:54px;height:15.400000000000034px;background:#f8696b;"></div><div style="left:230px;top:461.4px;width:56px;height:15.400000000000034px;background:#fdc37c;"></div><div style="left:286px;top:461.4px;width:57px;height:15.400000000000034px;background:#fedf82;"></div><div style="left:343px;top:461.4px;width:53px;height:15.400000000000034px;background:#e3e382;"></div><div style="left:396px;top:461.4px;width:54px;height:15.400000000000034px;background:#99ce7e;"></div><div style="left:450px;top:461.4px;width:57px;height:15.400000000000034px;background:#93cc7e;"></div><div style="left:507px;top:461.4px;width:56px;height:15.400000000000034px;background:#6cc07b;"></div><div style="left:563px;top:461.4px;width:54px;height:15.400000000000034px;background:#63be7b;"></div><div style="left:617px;top:461.4px;width:86px;height:15.400000000000034px;background:#ffffff;"></div><div style="left:9px;top:476.8px;width:56px;height:15.399999999999977px;background:#ffffff;"></div><div style="left:65px;top:476.8px;width:54px;height:15.399999999999977px;background:#fa8c72;"></div><div style="left:119px;top:476.8px;width:57px;height:15.399999999999977px;background:#f8696b;"></div><div style="left:176px;top:476.8px;width:54px;height:15.399999999999977px;background:#fed680;"></div><div style="left:230px;top:476.8px;width:56px;height:15.399999999999977px;background:#ffe984;"></div><div style="left:286px;top:476.8px;width:57px;height:15.399999999999977px;background:#b4d580;"></div><div style="left:343px;top:476.8px;width:53px;height:15.399999999999977px;background:#ffe382;"></div><div style="left:396px;top:476.8px;width:54px;height:15.399999999999977px;background:#ece683;"></div><div style="left:450px;top:476.8px;width:57px;height:15.399999999999977px;background:#dae082;"></div><div style="left:507px;top:476.8px;width:56px;height:15.399999999999977px;background:#a8d27f;"></div><div style="left:563px;top:476.8px;width:54px;height:15.399999999999977px;background:#63be7b;"></div><div style="left:617px;top:476.8px;width:86px;height:15.399999999999977px;background:#ffffff;"></div><div style="left:9px;top:492.2px;width:56px;height:15.400000000000034px;background:#ffffff;"></div><div style="left:65px;top:492.2px;width:54px;height:15.400000000000034px;background:#f8696b;"></div><div style="left:119px;top:492.2px;width:57px;height:15.400000000000034px;background:#fa9373;"></div><div style="left:176px;top:492.2px;width:54px;height:15.400000000000034px;background:#fba977;"></div><div style="left:230px;top:492.2px;width:56px;height:15.400000000000034px;background:#63be7b;"></div><div style="left:286px;top:492.2px;width:57px;height:15.400000000000034px;background:#dde182;"></div><div style="left:343px;top:492.2px;width:53px;height:15.400000000000034px;background:#fede81;"></div><div style="left:396px;top:492.2px;width:54px;height:15.400000000000034px;background:#fbea84;"></div><div style="left:450px;top:492.2px;width:57px;height:15.400000000000034px;background:#eee683;"></div><div style="left:507px;top:492.2px;width:56px;height:15.400000000000034px;background:#ffea84;"></div><div style="left:563px;top:492.2px;width:54px;height:15.400000000000034px;background:#c0d980;"></div><div style="left:617px;top:492.2px;width:86px;height:15.400000000000034px;background:#ffffff;"></div><div style="left:9px;top:507.6px;width:56px;height:15.399999999999977px;background:#ffffff;"></div><div style="left:65px;top:507.6px;width:54px;height:15.399999999999977px;background:#fb9874;"></div><div style="left:119px;top:507.6px;width:57px;height:15.399999999999977px;background:#f8696b;"></div><div style="left:176px;top:507.6px;width:54px;height:15.399999999999977px;background:#fcba7b;"></div><div style="left:230px;top:507.6px;width:56px;height:15.399999999999977px;background:#ffe883;"></div><div style="left:286px;top:507.6px;width:57px;height:15.399999999999977px;background:#ffea84;"></div><div style="left:343px;top:507.6px;width:53px;height:15.399999999999977px;background:#b9d780;"></div><div style="left:396px;top:507.6px;width:54px;height:15.399999999999977px;background:#dde182;"></div><div style="left:450px;top:507.6px;width:57px;height:15.399999999999977px;background:#fae984;"></div><div style="left:507px;top:507.6px;width:56px;height:15.399999999999977px;background:#c7db81;"></div><div style="left:563px;top:507.6px;width:54px;height:15.399999999999977px;background:#63be7b;"></div><div style="left:617px;top:507.6px;width:86px;height:15.399999999999977px;background:#ffffff;"></div><div style="left:9px;top:523px;width:56px;height:15px;background:#ffffff;"></div><div style="left:65px;top:523px;width:54px;height:15px;background:#f8696b;"></div><div style="left:119px;top:523px;width:57px;height:15px;background:#f97c6f;"></div><div style="left:176px;top:523px;width:54px;height:15px;background:#fdcb7e;"></div><div style="left:230px;top:523px;width:56px;height:15px;background:#63be7b;"></div><div style="left:286px;top:523px;width:57px;height:15px;background:#c7db81;"></div><div style="left:343px;top:523px;width:53px;height:15px;background:#fee182;"></div><div style="left:396px;top:523px;width:54px;height:15px;background:#ffeb84;"></div><div style="left:450px;top:523px;width:57px;height:15px;background:#e0e282;"></div><div style="left:507px;top:523px;width:56px;height:15px;background:#ece683;"></div><div style="left:563px;top:523px;width:54px;height:15px;background:#f9e984;"></div><div style="left:617px;top:523px;width:86px;height:15px;background:#ffffff;"></div><div style="left:703px;top:369px;width:63px;height:15.399999999999977px;background:#f8696b;"></div><div style="left:703px;top:384.4px;width:63px;height:15.400000000000034px;background:#fa8671;"></div><div style="left:703px;top:399.8px;width:63px;height:15.399999999999977px;background:#fcb179;"></div><div style="left:703px;top:415.2px;width:63px;height:15.400000000000034px;background:#fdce7e;"></div><div style="left:703px;top:430.6px;width:63px;height:15.399999999999977px;background:#fedd81;"></div><div style="left:703px;top:446px;width:63px;height:15.399999999999977px;background:#faea84;"></div><div style="left:703px;top:461.4px;width:63px;height:15.400000000000034px;background:#e5e482;"></div><div style="left:703px;top:476.8px;width:63px;height:15.399999999999977px;background:#c6da81;"></div><div style="left:703px;top:492.2px;width:63px;height:15.400000000000034px;background:#a7d27f;"></div><div style="left:703px;top:507.6px;width:63px;height:15.399999999999977px;background:#63be7b;"></div><div style="left:703px;top:523px;width:63px;height:15px;background:#ffeb84;"></div><div style="left:766px;top:369px;width:64px;height:15.399999999999977px;background:#f9786e;"></div><div style="left:766px;top:384.4px;width:64px;height:15.400000000000034px;background:#f8696b;"></div><div style="left:766px;top:399.8px;width:64px;height:15.399999999999977px;background:#e5e482;"></div><div style="left:766px;top:415.2px;width:64px;height:15.400000000000034px;background:#ffeb84;"></div><div style="left:766px;top:430.6px;width:64px;height:15.399999999999977px;background:#fdcd7e;"></div><div style="left:766px;top:446px;width:64px;height:15.399999999999977px;background:#fed780;"></div><div style="left:766px;top:461.4px;width:64px;height:15.400000000000034px;background:#cfdd81;"></div><div style="left:766px;top:476.8px;width:64px;height:15.399999999999977px;background:#c7db81;"></div><div style="left:766px;top:492.2px;width:64px;height:15.400000000000034px;background:#e9e583;"></div><div style="left:766px;top:507.6px;width:64px;height:15.399999999999977px;background:#63be7b;"></div><div style="left:766px;top:523px;width:64px;height:15px;background:#fdc87d;"></div><div style="left:830px;top:369px;width:64px;height:15.399999999999977px;background:#fcb379;"></div><div style="left:830px;top:384.4px;width:64px;height:15.400000000000034px;background:#fb9e75;"></div><div style="left:830px;top:399.8px;width:64px;height:15.399999999999977px;background:#f8696b;"></div><div style="left:830px;top:415.2px;width:64px;height:15.400000000000034px;background:#fdc47d;"></div><div style="left:830px;top:430.6px;width:64px;height:15.399999999999977px;background:#ffeb84;"></div><div style="left:830px;top:446px;width:64px;height:15.399999999999977px;background:#e6e483;"></div><div style="left:830px;top:461.4px;width:64px;height:15.400000000000034px;background:#63be7b;"></div><div style="left:830px;top:476.8px;width:64px;height:15.399999999999977px;background:#90cb7e;"></div><div style="left:830px;top:492.2px;width:64px;height:15.400000000000034px;background:#c8db81;"></div><div style="left:830px;top:507.6px;width:64px;height:15.399999999999977px;background:#cddc81;"></div><div style="left:830px;top:523px;width:64px;height:15px;background:#ffe783;"></div><div style="left:9px;top:384px;width:608px;height:1px;background:#ababab;"></div><div style="left:617px;top:384px;width:78px;height:1px;background:#8a8a8a;"></div><div style="left:703px;top:384px;width:191px;height:1px;background:#ababab;"></div><div style="left:9px;top:399px;width:608px;height:1px;background:#ababab;"></div><div style="left:617px;top:399px;width:78px;height:1px;background:#8a8a8a;"></div><div style="left:703px;top:399px;width:191px;height:1px;background:#ababab;"></div><div style="left:9px;top:415px;width:608px;height:1px;background:#ababab;"></div><div style="left:617px;top:415px;width:78px;height:1px;background:#8a8a8a;"></div><div style="left:703px;top:415px;width:191px;height:1px;background:#ababab;"></div><div style="left:9px;top:430px;width:608px;height:1px;background:#ababab;"></div><div style="left:617px;top:430px;width:78px;height:1px;background:#8a8a8a;"></div><div style="left:703px;top:430px;width:191px;height:1px;background:#ababab;"></div><div style="left:9px;top:445px;width:608px;height:1px;background:#ababab;"></div><div style="left:617px;top:445px;width:78px;height:1px;background:#8a8a8a;"></div><div style="left:703px;top:445px;width:191px;height:1px;background:#ababab;"></div><div style="left:9px;top:461px;width:608px;height:1px;background:#ababab;"></div><div style="left:617px;top:461px;width:78px;height:1px;background:#8a8a8a;"></div><div style="left:703px;top:461px;width:191px;height:1px;background:#ababab;"></div><div style="left:9px;top:476px;width:608px;height:1px;background:#ababab;"></div><div style="left:617px;top:476px;width:78px;height:1px;background:#8a8a8a;"></div><div style="left:703px;top:476px;width:191px;height:1px;background:#ababab;"></div><div style="left:9px;top:492px;width:608px;height:1px;background:#ababab;"></div><div style="left:617px;top:492px;width:78px;height:1px;background:#8a8a8a;"></div><div style="left:703px;top:492px;width:191px;height:1px;background:#ababab;"></div><div style="left:9px;top:507px;width:608px;height:1px;background:#ababab;"></div><div style="left:617px;top:507px;width:78px;height:1px;background:#8a8a8a;"></div><div style="left:703px;top:507px;width:191px;height:1px;background:#ababab;"></div><div style="left:9px;top:523px;width:694px;height:1px;background:#3a3a3a;"></div><div style="left:703px;top:523px;width:191px;height:1px;background:#ababab;"></div><div style="left:9px;top:368px;width:885px;height:1px;background:#3c4448;"></div><div style="left:65px;top:339px;width:1px;height:30px;background:#a0abb3;"></div><div style="left:65px;top:369px;width:1px;height:169px;background:#ababab;"></div><div style="left:119px;top:339px;width:1px;height:30px;background:#a0abb3;"></div><div style="left:119px;top:369px;width:1px;height:169px;background:#ababab;"></div><div style="left:176px;top:339px;width:1px;height:30px;background:#a0abb3;"></div><div style="left:176px;top:369px;width:1px;height:169px;background:#ababab;"></div><div style="left:230px;top:339px;width:1px;height:30px;background:#a0abb3;"></div><div style="left:230px;top:369px;width:1px;height:169px;background:#ababab;"></div><div style="left:286px;top:339px;width:1px;height:30px;background:#a0abb3;"></div><div style="left:286px;top:369px;width:1px;height:169px;background:#ababab;"></div><div style="left:343px;top:339px;width:1px;height:30px;background:#a0abb3;"></div><div style="left:343px;top:369px;width:1px;height:169px;background:#ababab;"></div><div style="left:396px;top:339px;width:1px;height:30px;background:#a0abb3;"></div><div style="left:396px;top:369px;width:1px;height:169px;background:#ababab;"></div><div style="left:450px;top:339px;width:1px;height:30px;background:#a0abb3;"></div><div style="left:450px;top:369px;width:1px;height:169px;background:#ababab;"></div><div style="left:507px;top:339px;width:1px;height:30px;background:#a0abb3;"></div><div style="left:507px;top:369px;width:1px;height:169px;background:#ababab;"></div><div style="left:766px;top:339px;width:1px;height:30px;background:#a0abb3;"></div><div style="left:766px;top:369px;width:1px;height:169px;background:#ababab;"></div><div style="left:830px;top:339px;width:1px;height:30px;background:#a0abb3;"></div><div style="left:830px;top:369px;width:1px;height:169px;background:#ababab;"></div><div style="left:695px;top:339px;width:1px;height:30px;background:#555555;"></div><div style="left:695px;top:369px;width:1px;height:169px;background:#555555;"></div><div style="left:703px;top:523px;width:1px;height:15px;background:#a0a0a0;"></div><div style="left:562px;top:339px;width:2px;height:199px;background:repeating-linear-gradient(to bottom,#3a3a3a 0,#3a3a3a 6px,transparent 6px,transparent 8px)"></div><div style="left:616px;top:339px;width:2px;height:199px;background:repeating-linear-gradient(to bottom,#3a3a3a 0,#3a3a3a 6px,transparent 6px,transparent 8px)"></div><svg style="left:0;top:0" width="900" height="540"><rect x="701" y="369" width="1.6" height="148.0" fill="#3552c2"/><polygon points="698.3,516.5 705.3,516.5 701.8,522" fill="#3552c2"/></svg><div style="left:7.5px;top:337.5px;width:885px;height:199px;border:1.5px solid #3a3a3a"></div><div class="h2" style="left:11px;top:338px;width:56px;height:30px;line-height:30px;text-align:left">Country</div><div class="h2" style="left:65px;top:338px;width:54px;height:30px;line-height:30px;text-align:center">Dec-19</div><div class="h2" style="left:119px;top:338px;width:57px;height:30px;line-height:30px;text-align:center">Dec-20</div><div class="h2" style="left:176px;top:338px;width:54px;height:30px;line-height:30px;text-align:center">Dec-21</div><div class="h2" style="left:230px;top:338px;width:56px;height:30px;line-height:30px;text-align:center">Dec-22</div><div class="h2" style="left:286px;top:338px;width:57px;height:30px;line-height:30px;text-align:center">Dec-23</div><div class="h2" style="left:343px;top:338px;width:53px;height:30px;line-height:30px;text-align:center">Sep-24</div><div class="h2" style="left:396px;top:338px;width:54px;height:30px;line-height:30px;text-align:center">Dec-24</div><div class="h2" style="left:450px;top:338px;width:57px;height:30px;line-height:30px;text-align:center">Mar-25</div><div class="h2" style="left:507px;top:338px;width:56px;height:30px;line-height:30px;text-align:center">Jun-25</div><div class="h2" style="left:563px;top:338px;width:54px;height:30px;line-height:30px;text-align:center">Sep-25</div><div class="h2 it" style="left:617px;top:343px;width:78px;line-height:11px;text-align:center">Quarterly<br>change</div><div class="h2 it" style="left:695px;top:338px;width:71px;height:30px;line-height:30px;text-align:center">3 months</div><div class="h2 it" style="left:766px;top:338px;width:64px;height:30px;line-height:30px;text-align:center">6 months</div><div class="h2 it" style="left:830px;top:338px;width:64px;height:30px;line-height:30px;text-align:center">12 months</div><div class="c2n" style="left:10px;top:369px;width:50px;height:15.399999999999977px;line-height:15.399999999999977px;text-align:left">FR</div><div class="c2" style="left:65px;top:370px;width:51.5px;height:15.399999999999977px;line-height:15.399999999999977px;text-align:right">3.94%</div><div class="c2" style="left:119px;top:370px;width:54.5px;height:15.399999999999977px;line-height:15.399999999999977px;text-align:right">3.87%</div><div class="c2" style="left:176px;top:370px;width:51.5px;height:15.399999999999977px;line-height:15.399999999999977px;text-align:right">3.46%</div><div class="c2" style="left:230px;top:370px;width:53.5px;height:15.399999999999977px;line-height:15.399999999999977px;text-align:right">3.43%</div><div class="c2" style="left:286px;top:370px;width:54.5px;height:15.399999999999977px;line-height:15.399999999999977px;text-align:right">3.63%</div><div class="c2" style="left:343px;top:370px;width:50.5px;height:15.399999999999977px;line-height:15.399999999999977px;text-align:right">3.90%</div><div class="c2" style="left:396px;top:370px;width:51.5px;height:15.399999999999977px;line-height:15.399999999999977px;text-align:right">3.72%</div><div class="c2" style="left:450px;top:370px;width:54.5px;height:15.399999999999977px;line-height:15.399999999999977px;text-align:right">3.76%</div><div class="c2" style="left:507px;top:370px;width:53.5px;height:15.399999999999977px;line-height:15.399999999999977px;text-align:right">3.82%</div><div class="c2" style="left:563px;top:370px;width:51.5px;height:15.399999999999977px;line-height:15.399999999999977px;text-align:right">3.93%</div><div class="c2" style="left:703px;top:370px;width:60.5px;height:15.399999999999977px;line-height:15.399999999999977px;text-align:right">0.10%</div><div class="c2" style="left:766px;top:370px;width:61.5px;height:15.399999999999977px;line-height:15.399999999999977px;text-align:right">0.17%</div><div class="c2" style="left:830px;top:370px;width:61.5px;height:15.399999999999977px;line-height:15.399999999999977px;text-align:right">0.02%</div><div style="left:622px;top:374px;width:10px;height:8px;background:#3552c2;"></div><div style="left:637px;top:381px;width:10px;height:1px;background:#8c9bd6;"></div><div style="left:652px;top:380px;width:10px;height:2px;background:#3552c2;"></div><div style="left:666px;top:377px;width:10px;height:5px;background:#3552c2;"></div><div style="left:681px;top:372px;width:10px;height:10px;background:#3552c2;"></div><div class="c2n" style="left:10px;top:384.4px;width:50px;height:15.400000000000034px;line-height:15.400000000000034px;text-align:left">DE</div><div class="c2" style="left:65px;top:385.4px;width:51.5px;height:15.400000000000034px;line-height:15.400000000000034px;text-align:right">2.33%</div><div class="c2" style="left:119px;top:385.4px;width:54.5px;height:15.400000000000034px;line-height:15.400000000000034px;text-align:right">2.61%</div><div class="c2" style="left:176px;top:385.4px;width:51.5px;height:15.400000000000034px;line-height:15.400000000000034px;text-align:right">2.30%</div><div class="c2" style="left:230px;top:385.4px;width:53.5px;height:15.400000000000034px;line-height:15.400000000000034px;text-align:right">2.18%</div><div class="c2" style="left:286px;top:385.4px;width:54.5px;height:15.400000000000034px;line-height:15.400000000000034px;text-align:right">3.11%</div><div class="c2" style="left:343px;top:385.4px;width:50.5px;height:15.400000000000034px;line-height:15.400000000000034px;text-align:right">3.58%</div><div class="c2" style="left:396px;top:385.4px;width:51.5px;height:15.400000000000034px;line-height:15.400000000000034px;text-align:right">3.71%</div><div class="c2" style="left:450px;top:385.4px;width:54.5px;height:15.400000000000034px;line-height:15.400000000000034px;text-align:right">3.46%</div><div class="c2" style="left:507px;top:385.4px;width:53.5px;height:15.400000000000034px;line-height:15.400000000000034px;text-align:right">3.59%</div><div class="c2" style="left:563px;top:385.4px;width:51.5px;height:15.400000000000034px;line-height:15.400000000000034px;text-align:right">3.67%</div><div class="c2" style="left:703px;top:385.4px;width:60.5px;height:15.400000000000034px;line-height:15.400000000000034px;text-align:right">0.08%</div><div class="c2" style="left:766px;top:385.4px;width:61.5px;height:15.400000000000034px;line-height:15.400000000000034px;text-align:right">0.20%</div><div class="c2" style="left:830px;top:385.4px;width:61.5px;height:15.400000000000034px;line-height:15.400000000000034px;text-align:right">0.08%</div><div style="left:622px;top:392px;width:10px;height:5px;background:#3552c2;"></div><div style="left:637px;top:387px;width:10px;height:10px;background:#3552c2;"></div><div style="left:652px;top:396px;width:10px;height:1px;background:#8c9bd6;"></div><div style="left:666px;top:392px;width:10px;height:5px;background:#3552c2;"></div><div style="left:681px;top:389px;width:10px;height:8px;background:#3552c2;"></div><div class="c2n" style="left:10px;top:399.8px;width:50px;height:15.399999999999977px;line-height:15.399999999999977px;text-align:left">AT</div><div class="c2" style="left:65px;top:400.8px;width:51.5px;height:15.399999999999977px;line-height:15.399999999999977px;text-align:right">3.25%</div><div class="c2" style="left:119px;top:400.8px;width:54.5px;height:15.399999999999977px;line-height:15.399999999999977px;text-align:right">3.37%</div><div class="c2" style="left:176px;top:400.8px;width:51.5px;height:15.399999999999977px;line-height:15.399999999999977px;text-align:right">3.11%</div><div class="c2" style="left:230px;top:400.8px;width:53.5px;height:15.399999999999977px;line-height:15.399999999999977px;text-align:right">2.92%</div><div class="c2" style="left:286px;top:400.8px;width:54.5px;height:15.399999999999977px;line-height:15.399999999999977px;text-align:right">3.52%</div><div class="c2" style="left:343px;top:400.8px;width:50.5px;height:15.399999999999977px;line-height:15.399999999999977px;text-align:right">3.81%</div><div class="c2" style="left:396px;top:400.8px;width:51.5px;height:15.399999999999977px;line-height:15.399999999999977px;text-align:right">4.36%</div><div class="c2" style="left:450px;top:400.8px;width:54.5px;height:15.399999999999977px;line-height:15.399999999999977px;text-align:right">4.16%</div><div class="c2" style="left:507px;top:400.8px;width:53.5px;height:15.399999999999977px;line-height:15.399999999999977px;text-align:right">3.99%</div><div class="c2" style="left:563px;top:400.8px;width:51.5px;height:15.399999999999977px;line-height:15.399999999999977px;text-align:right">4.04%</div><div class="c2" style="left:703px;top:400.8px;width:60.5px;height:15.399999999999977px;line-height:15.399999999999977px;text-align:right">0.05%</div><div class="c2" style="left:766px;top:400.8px;width:61.5px;height:15.399999999999977px;line-height:15.399999999999977px;text-align:right">-0.12%</div><div class="c2" style="left:830px;top:400.8px;width:61.5px;height:15.399999999999977px;line-height:15.399999999999977px;text-align:right">0.23%</div><div style="left:622px;top:411px;width:10px;height:1px;background:#8c9bd6;"></div><div style="left:637px;top:402px;width:10px;height:10px;background:#3552c2;"></div><div style="left:652px;top:406px;width:10px;height:6px;background:#3552c2;"></div><div style="left:666px;top:409px;width:10px;height:3px;background:#3552c2;"></div><div style="left:681px;top:408px;width:10px;height:4px;background:#3552c2;"></div><div class="c2n" style="left:10px;top:415.2px;width:50px;height:15.400000000000034px;line-height:15.400000000000034px;text-align:left">SE</div><div class="c2" style="left:65px;top:416.2px;width:51.5px;height:15.400000000000034px;line-height:15.400000000000034px;text-align:right">1.01%</div><div class="c2" style="left:119px;top:416.2px;width:54.5px;height:15.400000000000034px;line-height:15.400000000000034px;text-align:right">0.96%</div><div class="c2" style="left:176px;top:416.2px;width:51.5px;height:15.400000000000034px;line-height:15.400000000000034px;text-align:right">0.57%</div><div class="c2" style="left:230px;top:416.2px;width:53.5px;height:15.400000000000034px;line-height:15.400000000000034px;text-align:right">0.33%</div><div class="c2" style="left:286px;top:416.2px;width:54.5px;height:15.400000000000034px;line-height:15.400000000000034px;text-align:right">0.39%</div><div class="c2" style="left:343px;top:416.2px;width:50.5px;height:15.400000000000034px;line-height:15.400000000000034px;text-align:right">0.50%</div><div class="c2" style="left:396px;top:416.2px;width:51.5px;height:15.400000000000034px;line-height:15.400000000000034px;text-align:right">0.49%</div><div class="c2" style="left:450px;top:416.2px;width:54.5px;height:15.400000000000034px;line-height:15.400000000000034px;text-align:right">0.53%</div><div class="c2" style="left:507px;top:416.2px;width:53.5px;height:15.400000000000034px;line-height:15.400000000000034px;text-align:right">0.45%</div><div class="c2" style="left:563px;top:416.2px;width:51.5px;height:15.400000000000034px;line-height:15.400000000000034px;text-align:right">0.47%</div><div class="c2" style="left:703px;top:416.2px;width:60.5px;height:15.400000000000034px;line-height:15.400000000000034px;text-align:right">0.03%</div><div class="c2" style="left:766px;top:416.2px;width:61.5px;height:15.400000000000034px;line-height:15.400000000000034px;text-align:right">-0.06%</div><div class="c2" style="left:830px;top:416.2px;width:61.5px;height:15.400000000000034px;line-height:15.400000000000034px;text-align:right">-0.03%</div><div style="left:622px;top:422px;width:10px;height:6px;background:#3552c2;"></div><div style="left:637px;top:423px;width:10px;height:5px;background:#3552c2;"></div><div style="left:652px;top:418px;width:10px;height:10px;background:#3552c2;"></div><div style="left:666px;top:427px;width:10px;height:1px;background:#8c9bd6;"></div><div style="left:681px;top:426px;width:10px;height:2px;background:#3552c2;"></div><div class="c2n" style="left:10px;top:430.6px;width:50px;height:15.399999999999977px;line-height:15.399999999999977px;text-align:left">BE</div><div class="c2" style="left:65px;top:431.6px;width:51.5px;height:15.399999999999977px;line-height:15.399999999999977px;text-align:right">3.64%</div><div class="c2" style="left:119px;top:431.6px;width:54.5px;height:15.399999999999977px;line-height:15.399999999999977px;text-align:right">4.08%</div><div class="c2" style="left:176px;top:431.6px;width:51.5px;height:15.399999999999977px;line-height:15.399999999999977px;text-align:right">3.28%</div><div class="c2" style="left:230px;top:431.6px;width:53.5px;height:15.399999999999977px;line-height:15.399999999999977px;text-align:right">2.89%</div><div class="c2" style="left:286px;top:431.6px;width:54.5px;height:15.399999999999977px;line-height:15.399999999999977px;text-align:right">2.84%</div><div class="c2" style="left:343px;top:431.6px;width:50.5px;height:15.399999999999977px;line-height:15.399999999999977px;text-align:right">3.36%</div><div class="c2" style="left:396px;top:431.6px;width:51.5px;height:15.399999999999977px;line-height:15.399999999999977px;text-align:right">3.25%</div><div class="c2" style="left:450px;top:431.6px;width:54.5px;height:15.399999999999977px;line-height:15.399999999999977px;text-align:right">3.22%</div><div class="c2" style="left:507px;top:431.6px;width:53.5px;height:15.399999999999977px;line-height:15.399999999999977px;text-align:right">3.20%</div><div class="c2" style="left:563px;top:431.6px;width:51.5px;height:15.399999999999977px;line-height:15.399999999999977px;text-align:right">3.22%</div><div class="c2" style="left:703px;top:431.6px;width:60.5px;height:15.399999999999977px;line-height:15.399999999999977px;text-align:right">0.02%</div><div class="c2" style="left:766px;top:431.6px;width:61.5px;height:15.399999999999977px;line-height:15.399999999999977px;text-align:right">0.00%</div><div class="c2" style="left:830px;top:431.6px;width:61.5px;height:15.399999999999977px;line-height:15.399999999999977px;text-align:right">-0.14%</div><div style="left:622px;top:433px;width:10px;height:10px;background:#3552c2;"></div><div style="left:637px;top:440px;width:10px;height:3px;background:#3552c2;"></div><div style="left:652px;top:442px;width:10px;height:1px;background:#3552c2;"></div><div style="left:666px;top:442px;width:10px;height:1px;background:#8c9bd6;"></div><div style="left:681px;top:442px;width:10px;height:1px;background:#3552c2;"></div><div class="c2n" style="left:10px;top:446px;width:50px;height:15.399999999999977px;line-height:15.399999999999977px;text-align:left">IT</div><div class="c2" style="left:65px;top:447px;width:51.5px;height:15.399999999999977px;line-height:15.399999999999977px;text-align:right">11.42%</div><div class="c2" style="left:119px;top:447px;width:54.5px;height:15.399999999999977px;line-height:15.399999999999977px;text-align:right">7.48%</div><div class="c2" style="left:176px;top:447px;width:51.5px;height:15.399999999999977px;line-height:15.399999999999977px;text-align:right">5.39%</div><div class="c2" style="left:230px;top:447px;width:53.5px;height:15.399999999999977px;line-height:15.399999999999977px;text-align:right">4.12%</div><div class="c2" style="left:286px;top:447px;width:54.5px;height:15.399999999999977px;line-height:15.399999999999977px;text-align:right">3.87%</div><div class="c2" style="left:343px;top:447px;width:50.5px;height:15.399999999999977px;line-height:15.399999999999977px;text-align:right">4.00%</div><div class="c2" style="left:396px;top:447px;width:51.5px;height:15.399999999999977px;line-height:15.399999999999977px;text-align:right">3.75%</div><div class="c2" style="left:450px;top:447px;width:54.5px;height:15.399999999999977px;line-height:15.399999999999977px;text-align:right">3.83%</div><div class="c2" style="left:507px;top:447px;width:53.5px;height:15.399999999999977px;line-height:15.399999999999977px;text-align:right">3.82%</div><div class="c2" style="left:563px;top:447px;width:51.5px;height:15.399999999999977px;line-height:15.399999999999977px;text-align:right">3.82%</div><div class="c2" style="left:703px;top:447px;width:60.5px;height:15.399999999999977px;line-height:15.399999999999977px;text-align:right">0.00%</div><div class="c2" style="left:766px;top:447px;width:61.5px;height:15.399999999999977px;line-height:15.399999999999977px;text-align:right">-0.02%</div><div class="c2" style="left:830px;top:447px;width:61.5px;height:15.399999999999977px;line-height:15.399999999999977px;text-align:right">-0.19%</div><div style="left:622px;top:448px;width:10px;height:10px;background:#3552c2;"></div><div style="left:637px;top:457px;width:10px;height:1px;background:#8c9bd6;"></div><div style="left:652px;top:455px;width:10px;height:3px;background:#3552c2;"></div><div style="left:666px;top:455px;width:10px;height:3px;background:#3552c2;"></div><div style="left:681px;top:455px;width:10px;height:3px;background:#3552c2;"></div><div class="c2n" style="left:10px;top:461.4px;width:50px;height:15.400000000000034px;line-height:15.400000000000034px;text-align:left">ES</div><div class="c2" style="left:65px;top:462.4px;width:51.5px;height:15.400000000000034px;line-height:15.400000000000034px;text-align:right">4.76%</div><div class="c2" style="left:119px;top:462.4px;width:54.5px;height:15.400000000000034px;line-height:15.400000000000034px;text-align:right">4.67%</div><div class="c2" style="left:176px;top:462.4px;width:51.5px;height:15.400000000000034px;line-height:15.400000000000034px;text-align:right">4.84%</div><div class="c2" style="left:230px;top:462.4px;width:53.5px;height:15.400000000000034px;line-height:15.400000000000034px;text-align:right">4.07%</div><div class="c2" style="left:286px;top:462.4px;width:54.5px;height:15.400000000000034px;line-height:15.400000000000034px;text-align:right">3.83%</div><div class="c2" style="left:343px;top:462.4px;width:50.5px;height:15.400000000000034px;line-height:15.400000000000034px;text-align:right">3.63%</div><div class="c2" style="left:396px;top:462.4px;width:51.5px;height:15.400000000000034px;line-height:15.400000000000034px;text-align:right">3.37%</div><div class="c2" style="left:450px;top:462.4px;width:54.5px;height:15.400000000000034px;line-height:15.400000000000034px;text-align:right">3.35%</div><div class="c2" style="left:507px;top:462.4px;width:53.5px;height:15.400000000000034px;line-height:15.400000000000034px;text-align:right">3.21%</div><div class="c2" style="left:563px;top:462.4px;width:51.5px;height:15.400000000000034px;line-height:15.400000000000034px;text-align:right">3.18%</div><div class="c2" style="left:703px;top:462.4px;width:60.5px;height:15.400000000000034px;line-height:15.400000000000034px;text-align:right">-0.04%</div><div class="c2" style="left:766px;top:462.4px;width:61.5px;height:15.400000000000034px;line-height:15.400000000000034px;text-align:right">-0.17%</div><div class="c2" style="left:830px;top:462.4px;width:61.5px;height:15.400000000000034px;line-height:15.400000000000034px;text-align:right">-0.45%</div><div style="left:622px;top:464px;width:10px;height:10px;background:#3552c2;"></div><div style="left:637px;top:470px;width:10px;height:4px;background:#3552c2;"></div><div style="left:652px;top:470px;width:10px;height:4px;background:#3552c2;"></div><div style="left:666px;top:473px;width:10px;height:1px;background:#8c9bd6;"></div><div style="left:681px;top:473px;width:10px;height:1px;background:#8c9bd6;"></div><div class="c2n" style="left:10px;top:476.8px;width:50px;height:15.399999999999977px;line-height:15.399999999999977px;text-align:left">NL</div><div class="c2" style="left:65px;top:477.8px;width:51.5px;height:15.399999999999977px;line-height:15.399999999999977px;text-align:right">4.34%</div><div class="c2" style="left:119px;top:477.8px;width:54.5px;height:15.399999999999977px;line-height:15.399999999999977px;text-align:right">4.80%</div><div class="c2" style="left:176px;top:477.8px;width:51.5px;height:15.399999999999977px;line-height:15.399999999999977px;text-align:right">3.37%</div><div class="c2" style="left:230px;top:477.8px;width:53.5px;height:15.399999999999977px;line-height:15.399999999999977px;text-align:right">3.12%</div><div class="c2" style="left:286px;top:477.8px;width:54.5px;height:15.399999999999977px;line-height:15.399999999999977px;text-align:right">2.97%</div><div class="c2" style="left:343px;top:477.8px;width:50.5px;height:15.399999999999977px;line-height:15.399999999999977px;text-align:right">3.20%</div><div class="c2" style="left:396px;top:477.8px;width:51.5px;height:15.399999999999977px;line-height:15.399999999999977px;text-align:right">3.06%</div><div class="c2" style="left:450px;top:477.8px;width:54.5px;height:15.399999999999977px;line-height:15.399999999999977px;text-align:right">3.03%</div><div class="c2" style="left:507px;top:477.8px;width:53.5px;height:15.399999999999977px;line-height:15.399999999999977px;text-align:right">2.95%</div><div class="c2" style="left:563px;top:477.8px;width:51.5px;height:15.399999999999977px;line-height:15.399999999999977px;text-align:right">2.84%</div><div class="c2" style="left:703px;top:477.8px;width:60.5px;height:15.399999999999977px;line-height:15.399999999999977px;text-align:right">-0.10%</div><div class="c2" style="left:766px;top:477.8px;width:61.5px;height:15.399999999999977px;line-height:15.399999999999977px;text-align:right">-0.19%</div><div class="c2" style="left:830px;top:477.8px;width:61.5px;height:15.399999999999977px;line-height:15.399999999999977px;text-align:right">-0.36%</div><div style="left:622px;top:479px;width:10px;height:10px;background:#3552c2;"></div><div style="left:637px;top:483px;width:10px;height:6px;background:#3552c2;"></div><div style="left:652px;top:484px;width:10px;height:5px;background:#3552c2;"></div><div style="left:666px;top:486px;width:10px;height:3px;background:#3552c2;"></div><div style="left:681px;top:488px;width:10px;height:1px;background:#8c9bd6;"></div><div class="c2n" style="left:10px;top:492.2px;width:50px;height:15.400000000000034px;line-height:15.400000000000034px;text-align:left">FI</div><div class="c2" style="left:65px;top:493.2px;width:51.5px;height:15.400000000000034px;line-height:15.400000000000034px;text-align:right">2.61%</div><div class="c2" style="left:119px;top:493.2px;width:54.5px;height:15.400000000000034px;line-height:15.400000000000034px;text-align:right">2.30%</div><div class="c2" style="left:176px;top:493.2px;width:51.5px;height:15.400000000000034px;line-height:15.400000000000034px;text-align:right">2.13%</div><div class="c2" style="left:230px;top:493.2px;width:53.5px;height:15.400000000000034px;line-height:15.400000000000034px;text-align:right">1.27%</div><div class="c2" style="left:286px;top:493.2px;width:54.5px;height:15.400000000000034px;line-height:15.400000000000034px;text-align:right">1.56%</div><div class="c2" style="left:343px;top:493.2px;width:50.5px;height:15.400000000000034px;line-height:15.400000000000034px;text-align:right">1.74%</div><div class="c2" style="left:396px;top:493.2px;width:51.5px;height:15.400000000000034px;line-height:15.400000000000034px;text-align:right">1.63%</div><div class="c2" style="left:450px;top:493.2px;width:54.5px;height:15.400000000000034px;line-height:15.400000000000034px;text-align:right">1.60%</div><div class="c2" style="left:507px;top:493.2px;width:53.5px;height:15.400000000000034px;line-height:15.400000000000034px;text-align:right">1.65%</div><div class="c2" style="left:563px;top:493.2px;width:51.5px;height:15.400000000000034px;line-height:15.400000000000034px;text-align:right">1.49%</div><div class="c2" style="left:703px;top:493.2px;width:60.5px;height:15.400000000000034px;line-height:15.400000000000034px;text-align:right">-0.16%</div><div class="c2" style="left:766px;top:493.2px;width:61.5px;height:15.400000000000034px;line-height:15.400000000000034px;text-align:right">-0.11%</div><div class="c2" style="left:830px;top:493.2px;width:61.5px;height:15.400000000000034px;line-height:15.400000000000034px;text-align:right">-0.25%</div><div style="left:622px;top:495px;width:10px;height:10px;background:#3552c2;"></div><div style="left:637px;top:500px;width:10px;height:5px;background:#3552c2;"></div><div style="left:652px;top:501px;width:10px;height:4px;background:#3552c2;"></div><div style="left:666px;top:499px;width:10px;height:6px;background:#3552c2;"></div><div style="left:681px;top:504px;width:10px;height:1px;background:#8c9bd6;"></div><div class="c2n" style="left:10px;top:507.6px;width:50px;height:15.399999999999977px;line-height:15.399999999999977px;text-align:left">DK</div><div class="c2" style="left:65px;top:508.6px;width:51.5px;height:15.399999999999977px;line-height:15.399999999999977px;text-align:right">4.52%</div><div class="c2" style="left:119px;top:508.6px;width:54.5px;height:15.399999999999977px;line-height:15.399999999999977px;text-align:right">5.52%</div><div class="c2" style="left:176px;top:508.6px;width:51.5px;height:15.399999999999977px;line-height:15.399999999999977px;text-align:right">3.81%</div><div class="c2" style="left:230px;top:508.6px;width:53.5px;height:15.399999999999977px;line-height:15.399999999999977px;text-align:right">2.83%</div><div class="c2" style="left:286px;top:508.6px;width:54.5px;height:15.399999999999977px;line-height:15.399999999999977px;text-align:right">2.78%</div><div class="c2" style="left:343px;top:508.6px;width:50.5px;height:15.399999999999977px;line-height:15.399999999999977px;text-align:right">2.57%</div><div class="c2" style="left:396px;top:508.6px;width:51.5px;height:15.399999999999977px;line-height:15.399999999999977px;text-align:right">2.67%</div><div class="c2" style="left:450px;top:508.6px;width:54.5px;height:15.399999999999977px;line-height:15.399999999999977px;text-align:right">2.75%</div><div class="c2" style="left:507px;top:508.6px;width:53.5px;height:15.399999999999977px;line-height:15.399999999999977px;text-align:right">2.61%</div><div class="c2" style="left:563px;top:508.6px;width:51.5px;height:15.399999999999977px;line-height:15.399999999999977px;text-align:right">2.33%</div><div class="c2" style="left:703px;top:508.6px;width:60.5px;height:15.399999999999977px;line-height:15.399999999999977px;text-align:right">-0.29%</div><div class="c2" style="left:766px;top:508.6px;width:61.5px;height:15.399999999999977px;line-height:15.399999999999977px;text-align:right">-0.42%</div><div class="c2" style="left:830px;top:508.6px;width:61.5px;height:15.399999999999977px;line-height:15.399999999999977px;text-align:right">-0.24%</div><div style="left:622px;top:515px;width:10px;height:5px;background:#3552c2;"></div><div style="left:637px;top:512px;width:10px;height:8px;background:#3552c2;"></div><div style="left:652px;top:510px;width:10px;height:10px;background:#3552c2;"></div><div style="left:666px;top:514px;width:10px;height:6px;background:#3552c2;"></div><div style="left:681px;top:519px;width:10px;height:1px;background:#8c9bd6;"></div><div class="c2n b" style="left:10px;top:523px;width:50px;height:15px;line-height:15px;text-align:left">EU</div><div class="c2 b" style="left:65px;top:524px;width:51.5px;height:15px;line-height:15px;text-align:right">4.99%</div><div class="c2 b" style="left:119px;top:524px;width:54.5px;height:15px;line-height:15px;text-align:right">4.76%</div><div class="c2 b" style="left:176px;top:524px;width:51.5px;height:15px;line-height:15px;text-align:right">3.77%</div><div class="c2 b" style="left:230px;top:524px;width:53.5px;height:15px;line-height:15px;text-align:right">3.25%</div><div class="c2 b" style="left:286px;top:524px;width:54.5px;height:15px;line-height:15px;text-align:right">3.33%</div><div class="c2 b" style="left:343px;top:524px;width:50.5px;height:15px;line-height:15px;text-align:right">3.50%</div><div class="c2 b" style="left:396px;top:524px;width:51.5px;height:15px;line-height:15px;text-align:right">3.38%</div><div class="c2 b" style="left:450px;top:524px;width:54.5px;height:15px;line-height:15px;text-align:right">3.35%</div><div class="c2 b" style="left:507px;top:524px;width:53.5px;height:15px;line-height:15px;text-align:right">3.36%</div><div class="c2 b" style="left:563px;top:524px;width:51.5px;height:15px;line-height:15px;text-align:right">3.37%</div><div class="c2" style="left:703px;top:524px;width:60.5px;height:15px;line-height:15px;text-align:right">0.01%</div><div class="c2" style="left:766px;top:524px;width:61.5px;height:15px;line-height:15px;text-align:right">0.01%</div><div class="c2" style="left:830px;top:524px;width:61.5px;height:15px;line-height:15px;text-align:right">-0.13%</div><div style="left:622px;top:526px;width:10px;height:10px;background:#3552c2;"></div><div style="left:637px;top:534px;width:10px;height:2px;background:#3552c2;"></div><div style="left:652px;top:535px;width:10px;height:1px;background:#8c9bd6;"></div><div style="left:666px;top:535px;width:10px;height:1px;background:#8c9bd6;"></div><div style="left:681px;top:535px;width:10px;height:1px;background:#8c9bd6;"></div><svg style="left:0;top:0" width="900" height="540"><ellipse cx="450" cy="415.5" rx="4" ry="2.6" fill="#3a3520"/><rect x="489.5" y="414" width="6" height="2.2" fill="#2a2250"/></svg></body></html>
